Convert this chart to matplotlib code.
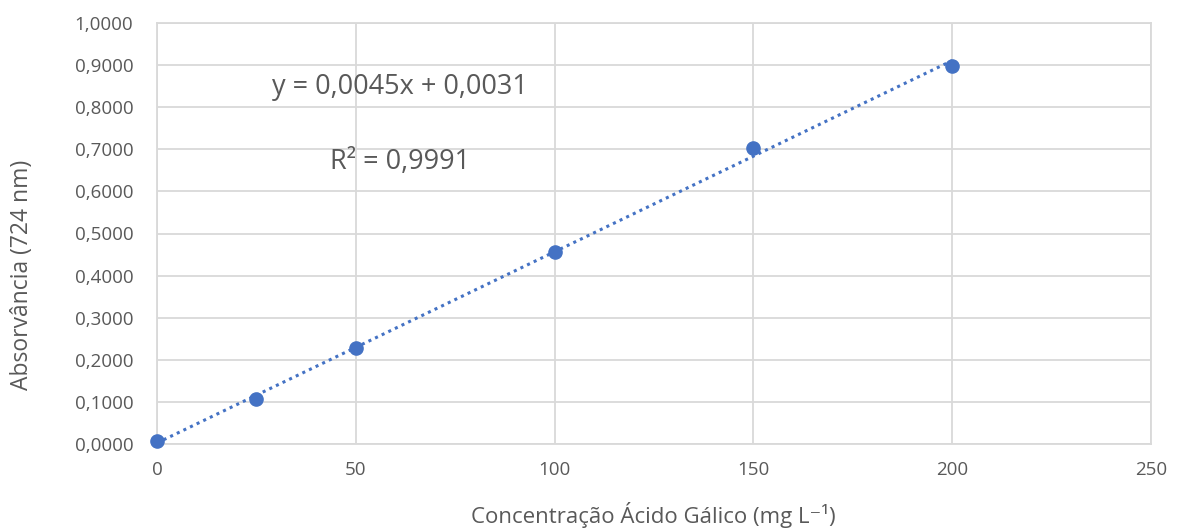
import numpy as np
import matplotlib
matplotlib.use("Agg")
import matplotlib.pyplot as plt
from matplotlib.ticker import FuncFormatter

conc = [0, 25, 50, 100, 150, 200]
absorb = [0.007, 0.107, 0.228, 0.456, 0.703, 0.898]
eq_text = "y = 0,0045x + 0,0031"
r2_text = "R² = 0,9991"
xlabel = "Concentração Ácido Gálico (mg L⁻¹)"
ylabel = "Absorvância (724 nm)"

plt.rcParams['font.family'] = ['Open Sans', 'DejaVu Sans']
gray = "#595959"
blue = "#4472C4"
grid = "#D9D9D9"

fig = plt.figure(figsize=(11.8, 5.29), dpi=100)
ax = fig.add_axes([157/1180, 1-444/529, (1151-157)/1180, (444-23)/529])

slope, intercept = np.polyfit(conc, absorb, 1)
xs = np.array([min(conc), max(conc)])
ax.plot(xs, slope*xs + intercept, linestyle=(0, (1, 1.4)), color=blue, lw=2.2,
        dash_capstyle='butt', zorder=2)
ax.plot(conc, absorb, 'o', color=blue, ms=9.5, zorder=3, clip_on=False)

ax.set_xlim(0, 250)
ax.set_ylim(0, 1.0)
ax.set_xticks(np.arange(0, 251, 50))
ax.set_yticks(np.arange(0, 1.0001, 0.1))
ax.yaxis.set_major_formatter(FuncFormatter(lambda v, p: f"{v:.4f}".replace('.', ',')))
ax.grid(True, color=grid, lw=1.3)
ax.set_axisbelow(True)
for s in ax.spines.values():
    s.set_color(grid)
    s.set_linewidth(1.3)
ax.tick_params(length=0, colors=gray, labelsize=13.5)
ax.tick_params(axis='x', pad=12)
ax.tick_params(axis='y', pad=17)

ax.text(400/1180, 1-87/529, eq_text, transform=fig.transFigure, ha='center', va='center',
        fontsize=19.5, color=gray)
ax.text(400/1180, 1-162/529, r2_text, transform=fig.transFigure, ha='center', va='center',
        fontsize=19.5, color=gray)

fig.text(653/1180, 1-515/529, xlabel, ha='center', va='center', fontsize=16, color=gray)
fig.text(22/1180, 1-275/529, ylabel, ha='center', va='center', fontsize=16.5, color=gray,
         rotation=90)

fig.savefig("out.png", dpi=100, facecolor='white')
